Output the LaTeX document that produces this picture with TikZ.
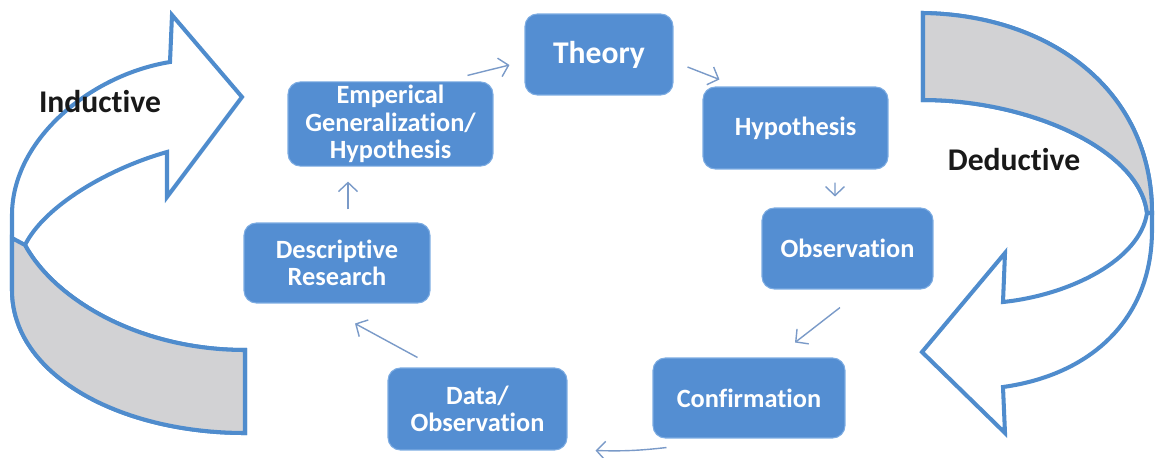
\documentclass[tikz,border=0pt]{standalone}
\usepackage{fontspec}
\setmainfont{Carlito}[Ligatures={NoCommon,NoContextual}]
\usetikzlibrary{positioning,arrows.meta,calc}
\definecolor{boxblue}{RGB}{84,142,210}
\definecolor{boxedge}{RGB}{125,172,226}
\definecolor{ribbon}{RGB}{79,140,205}
\definecolor{fold}{RGB}{210,210,212}
\definecolor{linkblue}{RGB}{122,154,200}

\begin{document}
\begin{tikzpicture}[
  x=0.02cm, y=-0.02cm,
  stage/.style={draw=boxedge, line width=0.6pt, fill=boxblue, text=white, rounded corners=7pt,
    align=center, inner sep=2pt, font=\bfseries\fontsize{15}{15.5}\selectfont},
  arr/.style={-{Straight Barb[length=1.8mm,width=3.8mm]}, linkblue, line width=0.8pt},
  lbl/.style={font=\bfseries\fontsize{18}{20}\selectfont, text=black!90},
  band/.style={draw=ribbon, line width=2.3pt, line join=miter}
]
\useasboundingbox (0,0) rectangle (1157,457);
% Inductive arrow
\draw[band, fill=white] (12,290) -- (12,215) .. controls (12,140) and (90,75) .. (170,62) -- (172,15) -- (242,97) -- (167,197) -- (167,152)
  .. controls (110,168) and (45,205) .. (25,245) .. controls (55,300) and (140,350) .. (245,350) -- (245,433)
  .. controls (120,433) and (12,375) .. (12,290) -- cycle;
\draw[band, fill=fold] (25,245) .. controls (55,300) and (140,350) .. (245,350) -- (245,433)
  .. controls (120,433) and (12,375) .. (12,290) -- (12,238) -- cycle;
% Deductive arrow
\draw[band, fill=white] (923,13) .. controls (1050,15) and (1152,90) .. (1152,213) -- (1152,230)
  .. controls (1152,320) and (1090,375) .. (1003,387) -- (1005,433) -- (922,352) -- (1005,253) -- (1003,302)
  .. controls (1070,295) and (1140,260) .. (1147,213) .. controls (1140,150) and (1030,100) .. (923,100) -- cycle;
\draw[band, fill=fold] (923,13) .. controls (1050,15) and (1152,90) .. (1152,213) -- (1147,213)
  .. controls (1140,150) and (1030,100) .. (923,100) -- cycle;
\node[lbl] (ind) at (100,102) {Inductive};
\node[lbl] (ded) at (1014,160) {Deductive};
% Research cycle
\node[stage, minimum width=2.96cm, minimum height=1.62cm, font=\bfseries\fontsize{18}{20}\selectfont] (theory) at (599,54.5) {Theory};
\node[stage, minimum width=3.7cm, minimum height=1.64cm] (hyp) at (795.5,128) {Hypothesis};
\node[stage, minimum width=3.42cm, minimum height=1.62cm] (obs) at (847.5,248.5) {Observation};
\node[stage, minimum width=3.84cm, minimum height=1.6cm] (conf) at (749,398) {Confirmation};
\node[stage, minimum width=3.58cm, minimum height=1.64cm] (data) at (477.5,409) {Data/\\Observation};
\node[stage, minimum width=3.72cm, minimum height=1.6cm] (desc) at (337,263) {Descriptive\\Research};
\node[stage, minimum width=4.1cm, minimum height=1.64cm] (emp) at (390.5,124) {Emperical\\Generalization/\\Hypothesis};
\draw[arr] ($(emp.north east)+(-26,-6)$) -- ($(theory.west)+(-15,10.5)$);
\draw[arr] ($(theory.east)+(14,12.5)$) -- ($(hyp.north west)+(17,-7)$);
\draw[arr] ($(hyp.south)+(39.5,13)$) -- ($(obs.north)+(-12.5,-11)$);
\draw[arr] ($(obs.south)+(-7.5,18)$) -- ($(conf.north)+(46,-15)$);
\draw[arr] ($(conf.south west)+(14,9)$) to[bend left=4] ($(data.south east)+(28,0)$);
\draw[arr] ($(data.north west)+(30,-10)$) -- ($(desc.south)+(18,20)$);
\draw[arr] ($(desc.north)+(11,-13)$) -- ($(emp.south)+(-42.5,15)$);
\end{tikzpicture}
\end{document}
